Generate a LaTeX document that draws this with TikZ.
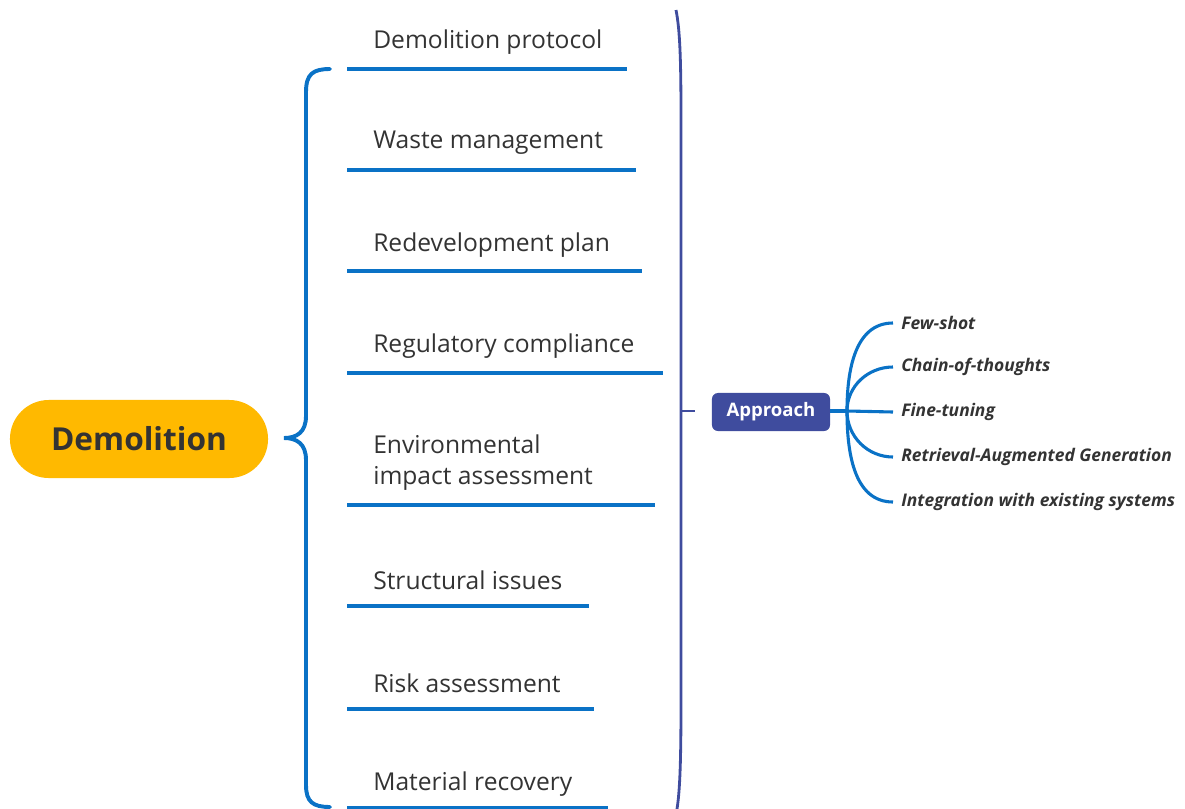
\documentclass[tikz,border=0pt]{standalone}
\usepackage{fontspec}
\setmainfont{Open Sans}
\usepackage{tikz}

\begin{document}
\begin{tikzpicture}[x=0.025cm,y=-0.025cm,
  topic/.style={anchor=west,inner sep=0pt,text=ink,font=\fontsize{17.5}{22}\selectfont},
  uline/.style={line width=2.8pt,blue1},
  leaf/.style={anchor=west,inner ysep=0pt,inner xsep=0.2cm,text=ink,font=\fontsize{12.4}{14}\selectfont\bfseries\itshape},
  branch/.style={line width=2.2pt,blue1}]
% Define colours
\definecolor{gold}{RGB}{255,185,0}
\definecolor{blue1}{RGB}{10,114,198}
\definecolor{navy}{RGB}{63,76,158}
\definecolor{ink}{RGB}{51,51,51}

\useasboundingbox (0,0) rectangle (1185,809);

% Draw central topic
\node[fill=gold,rounded corners=0.97cm,minimum width=6.45cm,minimum height=1.95cm,
  text=ink,font=\fontsize{22.5}{26}\selectfont\bfseries] (root) at (139,439) {Demolition};

% Draw left brace
\draw[line width=2.8pt,blue1,line cap=round]
  (330,69) .. controls (313,69) and (306,74) .. (306,92) -- (306,416)
  .. controls (306,432) and (297,438) .. (284,438)
  .. controls (297,438) and (306,444) .. (306,460) -- (306,785)
  .. controls (306,802) and (313,807) .. (330,807);

% Add topics
\node[topic] (t1) at (373,42) {Demolition protocol};
\node[topic] (t2) at (373,143) {Waste management};
\node[topic] (t3) at (373,245) {Redevelopment plan};
\node[topic] (t4) at (373,346) {Regulatory compliance};
\node[topic,align=left] (t5) at (373,463) {Environmental\\impact assessment};
\node[topic] (t6) at (373,580) {Structural issues};
\node[topic] (t7) at (373,683) {Risk assessment};
\node[topic] (t8) at (373,784) {Material recovery};

% Draw underlines
\draw[uline] (347,69) -- (627,69);
\draw[uline] (347,170) -- (636,170);
\draw[uline] (347,271) -- (642,271);
\draw[uline] (347,373) -- (663,373);
\draw[uline] (347,505) -- (655,505);
\draw[uline] (347,606) -- (589,606);
\draw[uline] (347,709) -- (594,709);
\draw[uline] (347,808) -- (608,808);

% Draw right bracket
\draw[line width=2pt,navy]
  (676,10) .. controls (680,30) and (681,60) .. (681,120) -- (681,700)
  .. controls (681,760) and (680,790) .. (677,809);
\draw[line width=2pt,navy] (681,411) -- (695,411);

% Approach node
\node[fill=navy,rounded corners=0.15cm,minimum width=2.95cm,minimum height=0.95cm,
  text=white,font=\fontsize{13.2}{16}\selectfont\bfseries] (app) at (771,412) {Approach};
\coordinate (hub) at (847,411);
\draw[branch] (app.east |- hub) -- (hub);

% Add methods
\node[leaf] (m1) at (893,323) {Few-shot};
\node[leaf] (m2) at (893,367) {Chain-of-thoughts};
\node[leaf] (m3) at (893,412) {Fine-tuning};
\node[leaf] (m4) at (893,457) {Retrieval-Augmented Generation};
\node[leaf] (m5) at (893,502) {Integration with existing systems};

% Draw branches
\draw[branch] (hub) to[out=90,in=180] (m1.west);
\draw[branch] (hub) to[out=90,in=180] (m2.west);
\draw[branch] (hub) -- (m3.west);
\draw[branch] (hub) to[out=-90,in=180] (m4.west);
\draw[branch] (hub) to[out=-90,in=180] (m5.west);
\end{tikzpicture}
\end{document}
